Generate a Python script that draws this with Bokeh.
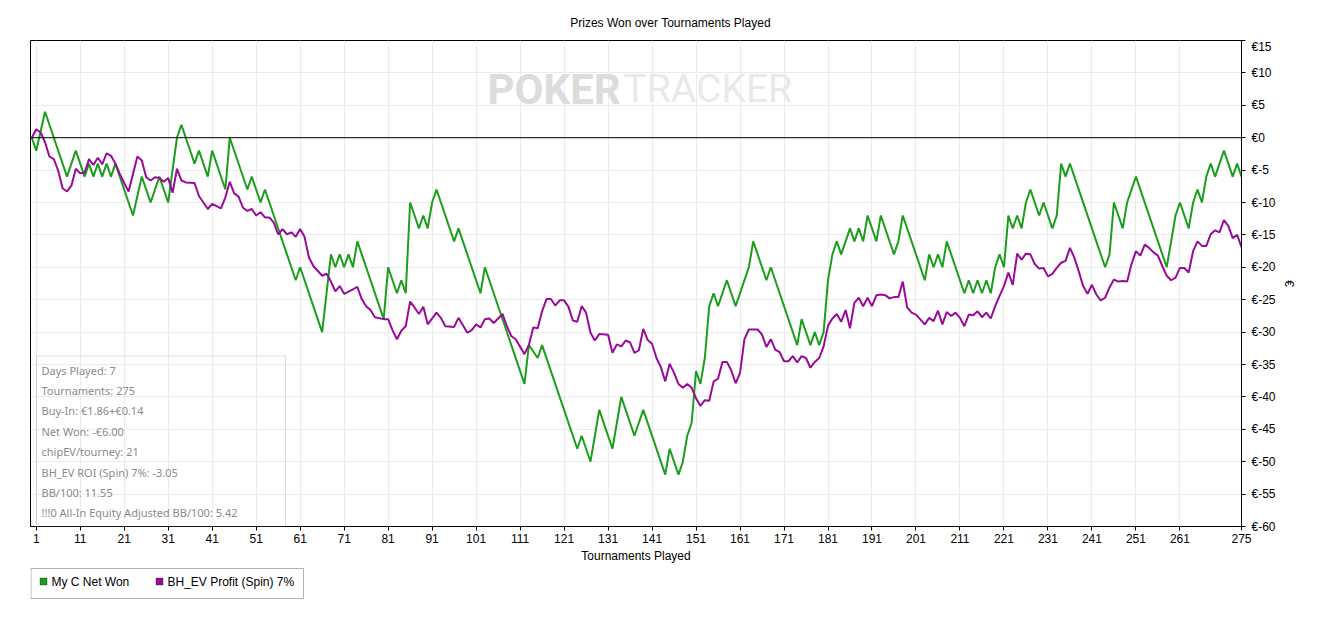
from bokeh.plotting import figure
from bokeh.layouts import column
from bokeh.models import Range1d, FixedTicker, Span, Label, BoxAnnotation
from bokeh.embed import file_html
from bokeh.resources import INLINE

# ---------------- data ----------------
title_text = "Prizes Won over Tournaments Played"
x_label = "Tournaments Played"
y_label = "€"
series_names = ["My C Net Won", "BH_EV Profit (Spin) 7%"]

x_ticks = [1, 11, 21, 31, 41, 51, 61, 71, 81, 91, 101, 111, 121, 131, 141,
           151, 161, 171, 181, 191, 201, 211, 221, 231, 241, 251, 261, 275]
y_ticks = [15, 10, 5, 0, -5, -10, -15, -20, -25, -30, -35, -40, -45, -50, -55, -60]
y_tick_labels = ["€15", "€10", "€5", "€0", "€-5", "€-10", "€-15", "€-20", "€-25",
                 "€-30", "€-35", "€-40", "€-45", "€-50", "€-55", "€-60"]

stats_lines = [
    "Days Played: 7",
    "Tournaments: 275",
    "Buy-In: €1.86+€0.14",
    "Net Won: -€6.00",
    "chipEV/tourney: 21",
    "BH_EV ROI (Spin) 7%: -3.05",
    "BB/100: 11.55",
    "!!!0 All-In Equity Adjusted BB/100: 5.42",
]

# green: cumulative net won (turning points, tournament number -> euros)
green_t = [0, 1, 3, 8, 10, 12, 13, 14, 15, 16, 17, 18, 19, 23, 25, 27, 29, 31, 33, 34,
           37, 38, 40, 41, 44, 45, 49, 50, 52, 53, 60, 61, 66, 68, 69, 70, 71, 72, 73, 74,
           80, 81, 83, 84, 85, 86, 88, 89, 90, 91, 92, 96, 97, 102, 103, 112, 113, 115, 116, 124,
           125, 127, 129, 132, 134, 137, 139, 144, 145, 147, 148, 149, 150, 151, 152, 153, 154, 155, 156, 158,
           160, 163, 164, 167, 168, 174, 175, 177, 178, 179, 180, 181, 182, 183, 184, 186, 187, 188, 189, 190,
           192, 193, 196, 197, 198, 203, 204, 205, 206, 207, 208, 212, 213, 214, 215, 216, 217, 218, 219, 220,
           221, 222, 223, 224, 225, 226, 227, 229, 230, 232, 233, 234, 235, 236, 244, 245, 246, 248, 249, 251,
           258, 260, 261, 263, 264, 265, 266, 267, 268, 269, 271, 273, 274, 275]
green_v = [0, -2, 4, -6, -2, -6, -4, -6, -4, -6, -4, -6, -4, -12, -6, -10, -6, -10, 0, 2,
           -4, -2, -6, -2, -8, 0, -8, -6, -10, -8, -22, -20, -30, -18, -20, -18, -20, -18, -20, -16,
           -28, -20, -24, -22, -24, -10, -14, -12, -14, -10, -8, -16, -14, -24, -20, -38, -32, -34, -32, -48,
           -46, -50, -42, -48, -40, -46, -42, -52, -48, -52, -50, -46, -44, -36, -38, -34, -26, -24, -26, -22,
           -26, -20, -16, -22, -20, -32, -28, -32, -30, -32, -30, -22, -18, -16, -18, -14, -16, -14, -16, -12,
           -16, -12, -18, -16, -12, -22, -18, -20, -18, -20, -16, -24, -22, -24, -22, -24, -22, -24, -20, -18,
           -20, -12, -14, -12, -14, -10, -8, -12, -10, -14, -12, -4, -6, -4, -20, -18, -10, -14, -10, -6,
           -20, -12, -10, -14, -10, -8, -10, -6, -4, -6, -2, -6, -4, -6]

# purple: BH_EV profit
purple_t = [0, 1, 2, 3, 4, 5, 6, 7, 8, 9, 10, 11, 12, 13, 14, 15, 16, 17, 18, 19,
            20, 21, 22, 24, 25, 26, 27, 28, 29, 30, 31, 32, 33, 34, 35, 37, 38, 40, 41, 43,
            44, 45, 46, 47, 48, 49, 50, 51, 52, 53, 54, 55, 56, 57, 58, 59, 60, 61, 62, 63,
            64, 66, 67, 68, 69, 70, 71, 73, 74, 75, 76, 77, 78, 80, 81, 82, 83, 84, 85, 86,
            87, 88, 89, 90, 92, 93, 94, 96, 97, 99, 100, 101, 102, 103, 104, 105, 107, 108, 109, 110,
            112, 113, 114, 115, 116, 117, 118, 119, 120, 121, 122, 123, 124, 125, 126, 127, 128, 129, 131, 132,
            133, 134, 135, 136, 137, 138, 139, 140, 141, 142, 143, 144, 145, 146, 147, 148, 149, 150, 151, 152,
            153, 154, 155, 156, 157, 158, 159, 160, 161, 162, 163, 165, 166, 167, 168, 169, 170, 171, 172, 173,
            174, 175, 176, 177, 178, 179, 180, 181, 182, 183, 184, 185, 186, 187, 188, 189, 190, 191, 192, 193,
            194, 195, 196, 197, 198, 199, 200, 201, 203, 204, 205, 206, 207, 208, 209, 210, 211, 212, 213, 214,
            215, 216, 217, 218, 219, 220, 221, 222, 223, 224, 225, 226, 227, 228, 229, 230, 231, 232, 233, 234,
            235, 236, 237, 238, 239, 240, 241, 242, 243, 244, 245, 246, 247, 248, 249, 250, 251, 252, 253, 254,
            255, 256, 257, 258, 259, 260, 261, 262, 263, 264, 265, 266, 267, 268, 269, 270, 271, 272, 273, 274,
            275]
purple_v = [0, 1.3, 0.8, -0.7, -2.9, -3.3, -5.1, -7.8, -8.3, -7.4, -4.8, -5.5, -5.4, -3.3, -4.2, -3.1, -4.1, -2.4, -2.8, -4.0,
            -5.6, -7.0, -8.3, -2.9, -3.5, -6.1, -6.6, -6.1, -6.2, -6.8, -6.2, -8.5, -4.8, -6.6, -6.9, -7.0, -9.0, -11.0, -10.2, -10.9,
            -9.2, -6.8, -8.6, -9.1, -10.8, -11.3, -11.0, -12.0, -11.5, -12.3, -12.3, -13.1, -14.9, -14.1, -14.9, -14.6, -15.3, -14.1, -15.3, -18.5,
            -19.8, -21.3, -21.0, -22.2, -23.7, -22.9, -24.1, -23.4, -23.0, -24.9, -26.0, -26.6, -27.7, -28.0, -28.0, -29.7, -31.1, -29.8, -29.1, -25.3,
            -26.2, -27.2, -26.1, -28.8, -27.0, -27.8, -29.1, -29.2, -27.8, -30.1, -29.7, -28.8, -29.3, -28.0, -27.9, -28.6, -27.2, -29.1, -30.6, -31.1,
            -33.4, -32.0, -29.3, -29.4, -26.8, -24.9, -24.9, -25.9, -25.1, -25.1, -26.1, -28.2, -28.4, -26.0, -27.0, -30.1, -31.3, -30.3, -30.4, -33.2,
            -31.9, -32.2, -31.3, -31.6, -33.2, -32.8, -29.5, -31.2, -31.8, -34.0, -35.4, -37.6, -34.9, -36.3, -38.0, -38.6, -38.0, -38.6, -40.2, -41.4,
            -40.5, -40.6, -37.6, -37.2, -34.6, -34.6, -35.9, -37.9, -36.3, -31.1, -29.6, -29.6, -30.4, -32.3, -31.1, -32.7, -33.1, -34.5, -34.5, -33.7,
            -34.7, -33.7, -34.0, -35.5, -34.6, -34.0, -32.2, -29.0, -27.9, -27.2, -28.4, -26.6, -29.4, -25.5, -24.7, -26.0, -24.7, -26.0, -24.3, -24.2,
            -24.3, -24.8, -24.6, -24.6, -22.2, -26.2, -27.0, -27.3, -28.8, -27.8, -28.3, -26.7, -28.8, -26.9, -27.5, -27.0, -27.8, -29.1, -27.3, -27.4,
            -26.8, -27.7, -27.0, -27.9, -26.0, -24.4, -22.9, -20.8, -22.7, -17.9, -18.8, -17.9, -18.0, -19.5, -20.2, -20.1, -21.4, -21.0, -20.1, -19.3,
            -19.0, -17.0, -18.5, -20.6, -22.9, -24.1, -22.7, -24.2, -25.1, -24.7, -23.1, -21.9, -22.2, -22.1, -22.2, -19.5, -17.5, -18.2, -16.5, -17.0,
            -17.7, -18.2, -19.8, -21.3, -22.0, -21.6, -20.1, -20.1, -20.8, -17.5, -16.0, -16.7, -16.7, -14.9, -14.3, -14.6, -12.7, -13.6, -15.5, -15.0,
            -16.9]

GREEN = "#1c9e1c"
PURPLE = "#9a0a9a"
FONT = "Liberation Sans"

W = 1309
TITLE_H = 39          # title strip (reference y 0..39)
MAIN_H = 526          # chart strip (reference y 39..565)
LEG_H = 36            # legend strip (reference y 565..601)
FL, FT, FR, FB = 30, 40, 1241, 525.5   # frame edges in reference pixels


def strip(h):
    f = figure(width=W, height=h, output_backend="svg", toolbar_location=None,
               x_axis_type=None, y_axis_type=None,
               x_range=Range1d(0, W), y_range=Range1d(0, h),
               min_border=0, min_border_left=0, min_border_right=0,
               min_border_top=0, min_border_bottom=0)
    f.outline_line_color = None
    f.background_fill_color = "white"
    f.border_fill_color = "white"
    return f


# column layout aligns every strip's frame with the chart frame (left edge at FL)
def stx(ix):
    return ix - FL


# ---------------- title strip ----------------
tf = strip(TITLE_H)
tf.add_layout(Label(x=stx(670), y=TITLE_H - 22, x_units="screen", y_units="screen", text=title_text,
                    text_font=FONT, text_font_size="12px", text_color="black",
                    text_align="center", text_baseline="middle"))

# ---------------- main chart ----------------
p = figure(width=W, height=MAIN_H, output_backend="svg", toolbar_location=None,
           x_range=Range1d(-0.3, 275), y_range=Range1d(-60, 15),
           y_axis_location="right",
           min_border_left=FL, min_border_right=W - FR, min_border_top=FT - TITLE_H,
           min_border_bottom=int(TITLE_H + MAIN_H - FB))

p.background_fill_color = "white"
p.border_fill_color = "white"
p.outline_line_color = "black"
p.outline_line_width = 1

xa = p.xaxis[0]
xa.ticker = FixedTicker(ticks=x_ticks)
xa.axis_label = x_label
ya = p.yaxis[0]
ya.ticker = FixedTicker(ticks=y_ticks)
ya.major_label_overrides = dict(zip(y_ticks, y_tick_labels))
ya.axis_label = y_label
for ax in (xa, ya):
    ax.axis_line_color = "black"
    ax.major_tick_line_color = "black"
    ax.major_tick_out = 4
    ax.major_tick_in = 0
    ax.minor_tick_line_color = None
    ax.major_label_text_font = FONT
    ax.major_label_text_font_size = "12px"
    ax.major_label_text_color = "black"
    ax.axis_label_text_font = FONT
    ax.axis_label_text_font_size = "12px"
    ax.axis_label_text_font_style = "normal"
    ax.axis_label_text_color = "black"
xa.major_label_standoff = 3
xa.axis_label_standoff = 3
ya.major_label_standoff = 6
ya.axis_label_standoff = 3

p.xgrid.ticker = FixedTicker(ticks=x_ticks)
p.xgrid.grid_line_color = "#ebebeb"
p.ygrid.grid_line_color = "#ebebeb"


def sx(ix):
    return ix - FL


def sy(iy):
    return FB - iy


# watermark
p.add_layout(Label(x=sx(487), y=sy(88), x_units="screen", y_units="screen", text="POKER",
                   text_font="Roboto", text_font_style="bold", text_font_size="42px",
                   text_color="#dcdcdc", text_baseline="middle", text_align="left", level="underlay"))
p.add_layout(Label(x=sx(623), y=sy(88), x_units="screen", y_units="screen", text="TRACKER",
                   text_font="Roboto", text_font_size="39px",
                   text_color="#e9e9e9", text_baseline="middle", text_align="left", level="underlay"))

# zero line
p.add_layout(Span(location=0, dimension="width", line_color="black", line_width=1))

# series
p.line(green_t, green_v, line_color=GREEN, line_width=2)
p.line(purple_t, purple_v, line_color=PURPLE, line_width=2)

# stats box
p.add_layout(BoxAnnotation(left=sx(36), right=sx(285), top=sy(355), bottom=sy(525.5),
                           left_units="screen", right_units="screen", top_units="screen", bottom_units="screen",
                           fill_alpha=0, line_color="#8c8c8c", line_width=1))
for i, s in enumerate(stats_lines):
    p.add_layout(Label(x=sx(41), y=sy(369 + 20.4 * i), x_units="screen", y_units="screen", text=s,
                       text_font="Noto Sans", text_font_size="11px", text_color="#8a8a8a",
                       text_align="left", text_baseline="middle"))

# ---------------- legend strip ----------------
lf = strip(LEG_H)
LT = TITLE_H + MAIN_H


def ly(iy):
    return LT + LEG_H - iy


lf.add_layout(BoxAnnotation(left=stx(30.5), right=stx(303), top=ly(568), bottom=ly(598),
                            left_units="screen", right_units="screen", top_units="screen", bottom_units="screen",
                            fill_color="white", fill_alpha=1, line_color="black", line_width=1))
for (bx, tx), name, col in zip([(39.5, 51), (155.5, 167)], series_names, [GREEN, PURPLE]):
    lf.add_layout(BoxAnnotation(left=stx(bx), right=stx(bx + 7), top=ly(577.5), bottom=ly(584.5),
                                left_units="screen", right_units="screen", top_units="screen", bottom_units="screen",
                                fill_color=col, fill_alpha=1, line_color="black", line_width=1))
    lf.add_layout(Label(x=stx(tx), y=ly(581.5), x_units="screen", y_units="screen", text=name,
                        text_font=FONT, text_font_size="12px", text_color="black",
                        text_align="left", text_baseline="middle"))

layout = column(tf, p, lf, spacing=0)
open("out.html", "w").write(file_html(layout, INLINE))
